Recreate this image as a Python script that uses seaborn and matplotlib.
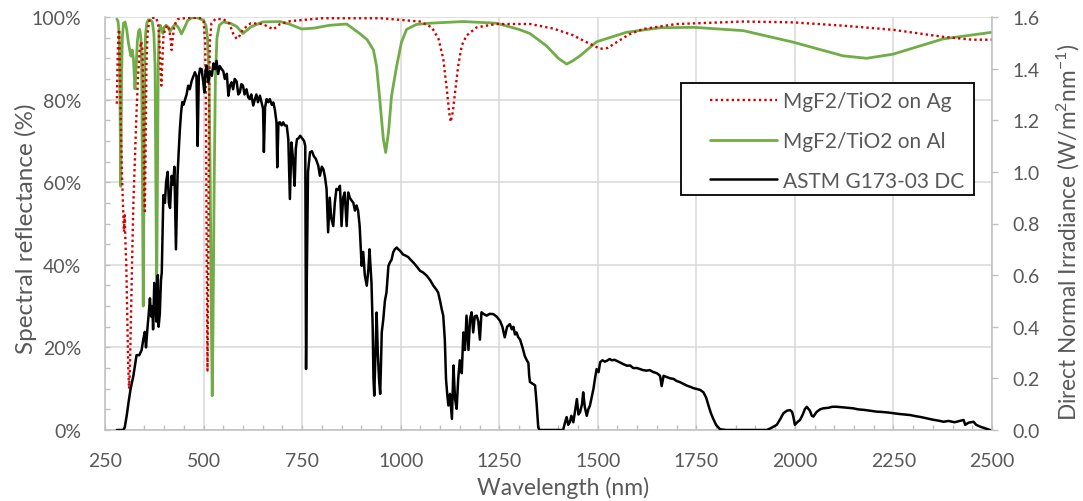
import matplotlib
matplotlib.use("Agg")
import matplotlib.pyplot as plt
import numpy as np
import pandas as pd
import seaborn as sns
from matplotlib.ticker import MultipleLocator, FuncFormatter
from matplotlib.lines import Line2D
from matplotlib.patches import Rectangle

# ---------------- data ----------------
ag_nm = [280, 282, 284, 286, 288, 290, 293, 296, 298, 300, 302, 304, 307, 309, 311, 313, 316, 319, 322, 326,
         330, 334, 338, 342, 345, 347, 349, 351, 353, 355, 358, 362, 368, 380, 385, 388, 391, 393, 395, 398,
         402, 408, 413, 416, 419, 422, 426, 435, 460, 490, 500, 504, 506, 508, 510, 512, 514, 516, 520, 530,
         550, 565, 575, 584, 592, 600, 620, 650, 677, 694, 720, 800, 950, 1049, 1079, 1096, 1108, 1117, 1123, 1127,
         1132, 1138, 1146, 1155, 1167, 1193, 1243, 1328, 1387, 1437, 1455, 1480, 1506, 1525, 1548, 1580, 1615, 1700, 1869, 1996,
         2122, 2249, 2376, 2450, 2500]
ag_refl = [79, 90, 96, 97, 88, 75, 62, 53.5, 48, 52, 45, 40, 25, 15, 10, 14, 28, 42, 55, 66,
           77, 86, 92, 94, 92, 82, 60, 53, 68, 88, 96, 99, 99.8, 99.8, 98, 94, 87, 83.4, 88, 95,
           97, 98, 97, 95, 92, 95, 98, 99.5, 99.8, 99.8, 99, 94, 80, 40, 14.4, 40, 80, 94, 98.5, 99.5,
           99.5, 98.5, 96, 94.7, 95.5, 97, 98.5, 98.3, 97, 98.3, 99, 99.7, 99.7, 98.9, 97.5, 94.7, 89.9, 82.6, 76.9, 74.6,
           76.9, 81.8, 88.2, 93.1, 95.5, 97.5, 98.3, 98.3, 97.2, 95.6, 94.7, 93.5, 92.3, 92.5, 93.9, 95.8, 97.1, 98.3, 98.9, 98.7,
           97.9, 96.9, 95.2, 94.5, 94.5]

al_nm = [280, 283, 286, 288, 290, 292, 294, 297, 301, 305, 309, 313, 316, 319, 322, 326, 329, 332, 335, 338,
         341, 343, 345, 347, 349, 351, 353, 356, 360, 365, 370, 374, 377, 379, 381, 383, 385, 387, 390, 394,
         397, 400, 405, 410, 415, 420, 428, 436, 444, 452, 460, 470, 485, 500, 506, 510, 514, 517, 520, 522,
         524, 527, 530, 534, 540, 550, 570, 584, 600, 620, 650, 694, 720, 749, 780, 820, 863, 896, 915, 931,
         939, 947, 956, 962, 969, 977, 990, 1002, 1015, 1040, 1074, 1158, 1243, 1300, 1328, 1370, 1400, 1421, 1435, 1455,
         1497, 1573, 1658, 1743, 1869, 1996, 2122, 2182, 2249, 2376, 2500]
al_refl = [99.5, 99, 96, 80, 59, 85, 95, 98.5, 98.8, 97, 94, 91.8, 90.5, 92, 90, 82.6, 88, 94, 96.5, 97,
           95, 88, 60, 30, 60, 90, 96, 98.5, 99.3, 99.3, 98.8, 96, 88, 60, 32.5, 60, 88, 96, 98, 97,
           96, 97.5, 98, 97.6, 96.5, 97.3, 98.3, 97.5, 95.9, 97.5, 99.2, 99.8, 99.8, 99.2, 98, 95, 85, 60, 25, 8.3,
           25, 60, 85, 95, 98, 98.8, 98.4, 97.7, 96, 97.6, 98.8, 98.9, 98.2, 97.1, 97.3, 98, 98.3, 96, 94.5, 92,
           88, 80, 70.5, 67.2, 72, 81, 88.2, 93.9, 97, 98.2, 98.5, 98.9, 98.5, 97, 96, 93, 90, 88.6, 89.3, 90.6,
           94, 96.3, 97.4, 97.5, 96.7, 93.9, 90.6, 90, 91, 94.7, 96.3]

astm_nm = [280, 296, 300, 305, 310, 315, 322, 330, 337, 343,
           347, 351, 354, 358, 362, 364, 367, 370, 372, 375,
           378, 380, 382, 384, 386, 389, 392, 394, 398, 402,
           405, 409, 412, 415, 419, 423, 426, 430, 434, 437,
           440, 443, 446, 449, 453, 457, 461, 465, 470, 474,
           478, 482, 485, 488, 491, 495, 499, 502, 505, 508,
           512, 516, 521, 525, 529, 533, 537, 541, 546, 550,
           554, 559, 563, 567, 571, 575, 579, 584, 588, 592,
           596, 600, 604, 609, 613, 617, 621, 626, 630, 634,
           638, 643, 647, 651, 653, 656, 660, 664, 668, 673,
           677, 681, 685, 687, 690, 694, 698, 702, 706, 711,
           715, 719, 723, 727, 731, 734, 737, 741, 745, 750,
           755, 758, 760, 762, 765, 770, 775, 780, 785, 791,
           795, 800, 804, 808, 812, 816, 820, 824, 829, 833,
           837, 841, 846, 850, 854, 858, 863, 867, 871, 875,
           880, 884, 888, 892, 896, 899, 901, 905, 909, 914,
           918, 921, 924, 926, 929, 931, 933, 936, 939, 942,
           945, 948, 950, 952, 956, 960, 964, 969, 973, 977,
           981, 985, 990, 994, 998, 1006, 1012, 1019, 1025, 1032,
           1040, 1049, 1057, 1066, 1075, 1083, 1090, 1095, 1100, 1104,
           1108, 1112, 1115, 1118, 1121, 1125, 1128, 1130, 1134, 1136,
           1138, 1142, 1146, 1150, 1155, 1159, 1163, 1167, 1172, 1176,
           1180, 1184, 1188, 1193, 1197, 1201, 1205, 1210, 1218, 1226,
           1235, 1243, 1252, 1258, 1264, 1270, 1277, 1282, 1286, 1290,
           1294, 1298, 1303, 1309, 1315, 1320, 1324, 1326, 1328, 1334,
           1341, 1345, 1349, 1352, 1412, 1417, 1421, 1425, 1429, 1433,
           1438, 1443, 1447, 1451, 1455, 1460, 1463, 1467, 1472, 1476,
           1480, 1485, 1489, 1493, 1497, 1502, 1506, 1512, 1518, 1523,
           1530, 1536, 1542, 1548, 1556, 1565, 1574, 1582, 1590, 1600,
           1607, 1615, 1624, 1632, 1640, 1650, 1658, 1662, 1667, 1675,
           1684, 1692, 1700, 1709, 1718, 1726, 1735, 1743, 1751, 1760,
           1768, 1775, 1781, 1787, 1793, 1800, 1810, 1825, 1929, 1940,
           1954, 1962, 1971, 1980, 1988, 1993, 1996, 2000, 2006, 2013,
           2020, 2025, 2030, 2038, 2043, 2047, 2055, 2064, 2072, 2085,
           2095, 2106, 2120, 2135, 2148, 2160, 2175, 2190, 2208, 2220,
           2235, 2250, 2265, 2280, 2292, 2305, 2320, 2335, 2350, 2365,
           2377, 2390, 2405, 2415, 2428, 2432, 2440, 2453, 2460, 2470,
           2485, 2495]
astm_irr = [0, 0, 0.01, 0.055, 0.11, 0.16, 0.21, 0.29, 0.29, 0.31,
            0.35, 0.38, 0.32, 0.40, 0.47, 0.51, 0.44, 0.48, 0.39, 0.57,
            0.50, 0.42, 0.55, 0.60, 0.40, 0.45, 0.58, 0.61, 0.91, 0.88,
            0.96, 1.00, 0.88, 0.86, 0.985, 0.95, 1.02, 0.70, 0.985, 1.08,
            1.166, 1.23, 1.27, 1.26, 1.28, 1.30, 1.334, 1.32, 1.353, 1.37,
            1.386, 1.37, 1.10, 1.372, 1.40, 1.398, 1.35, 1.308, 1.39, 1.411,
            1.347, 1.39, 1.372, 1.42, 1.398, 1.43, 1.379, 1.41, 1.398, 1.39,
            1.36, 1.38, 1.295, 1.334, 1.347, 1.32, 1.36, 1.35, 1.30, 1.308,
            1.34, 1.334, 1.30, 1.32, 1.29, 1.282, 1.30, 1.257, 1.28, 1.30,
            1.27, 1.295, 1.27, 1.244, 1.077, 1.25, 1.282, 1.27, 1.282, 1.26,
            1.269, 1.24, 1.192, 1.018, 1.19, 1.192, 1.18, 1.192, 1.18, 1.179,
            1.127, 0.895, 1.114, 1.05, 0.946, 1.09, 1.127, 1.13, 1.14, 1.13,
            1.12, 1.10, 0.236, 0.60, 1.00, 1.076, 1.08, 1.06, 1.05, 1.024,
            0.985, 1.02, 1.01, 0.98, 0.934, 0.766, 0.90, 0.82, 0.79, 0.88,
            0.934, 0.93, 0.946, 0.79, 0.90, 0.92, 0.79, 0.92, 0.90, 0.89,
            0.88, 0.85, 0.87, 0.85, 0.79, 0.70, 0.636, 0.69, 0.60, 0.559,
            0.62, 0.70, 0.62, 0.57, 0.40, 0.20, 0.133, 0.30, 0.455, 0.30,
            0.20, 0.14, 0.25, 0.378, 0.43, 0.50, 0.533, 0.636, 0.65, 0.66,
            0.688, 0.70, 0.707, 0.70, 0.695, 0.68, 0.676, 0.67, 0.66, 0.649,
            0.635, 0.617, 0.61, 0.598, 0.58, 0.559, 0.545, 0.533, 0.50, 0.469,
            0.443, 0.35, 0.198, 0.14, 0.095, 0.14, 0.08, 0.043, 0.25, 0.18,
            0.12, 0.082, 0.20, 0.27, 0.22, 0.378, 0.31, 0.443, 0.31, 0.43,
            0.456, 0.378, 0.44, 0.443, 0.42, 0.35, 0.456, 0.45, 0.443, 0.45,
            0.449, 0.44, 0.423, 0.40, 0.359, 0.40, 0.41, 0.39, 0.40, 0.37,
            0.378, 0.36, 0.35, 0.32, 0.286, 0.27, 0.26, 0.21, 0.186, 0.18,
            0.173, 0.10, 0.01, 0.0, 0.0, 0.03, 0.05, 0.02, 0.03, 0.055,
            0.03, 0.08, 0.12, 0.06, 0.069, 0.10, 0.146, 0.09, 0.055, 0.08,
            0.094, 0.13, 0.159, 0.20, 0.236, 0.224, 0.263, 0.27, 0.265, 0.268,
            0.275, 0.27, 0.272, 0.268, 0.262, 0.255, 0.249, 0.25, 0.24, 0.24,
            0.236, 0.232, 0.23, 0.232, 0.225, 0.22, 0.21, 0.17, 0.21, 0.205,
            0.20, 0.198, 0.19, 0.185, 0.178, 0.172, 0.167, 0.162, 0.159, 0.155,
            0.146, 0.125, 0.094, 0.065, 0.043, 0.02, 0.003, 0.0, 0.0, 0.008,
            0.02, 0.04, 0.065, 0.075, 0.077, 0.07, 0.052, 0.02, 0.03, 0.039,
            0.06, 0.08, 0.09, 0.075, 0.055, 0.052, 0.07, 0.08, 0.084, 0.086,
            0.09, 0.09, 0.088, 0.086, 0.084, 0.08, 0.078, 0.075, 0.071, 0.07,
            0.068, 0.065, 0.062, 0.06, 0.058, 0.054, 0.05, 0.045, 0.04, 0.036,
            0.032, 0.035, 0.03, 0.034, 0.039, 0.02, 0.028, 0.032, 0.02, 0.013,
            0.005, 0.0]

series_labels = ["MgF2/TiO2 on Ag", "MgF2/TiO2 on Al", "ASTM G173-03 DC"]

# ---------------- style ----------------
sns.set_theme(style="white")
plt.rcParams['font.family'] = ['Lato', 'DejaVu Sans']
plt.rcParams['mathtext.default'] = 'regular'
TXT = '#595959'
GRID = '#d9d9d9'
SPINE = '#bfbfbf'
RED = '#d40000'
GREEN = '#70ad47'

W, H = 1083, 502
fig = plt.figure(figsize=(W / 100, H / 100), dpi=100)
L, R, T, B = 105, 992, 18, 431
ax = fig.add_axes([L / W, 1 - B / H, (R - L) / W, (B - T) / H])
ax2 = ax.twinx()

df_ag = pd.DataFrame({"nm": ag_nm, "r": ag_refl})
df_al = pd.DataFrame({"nm": al_nm, "r": al_refl})
df_astm = pd.DataFrame({"nm": astm_nm, "irr": astm_irr})

RED_LS = (0, (1.0, 1.3))
sns.lineplot(data=df_ag, x="nm", y="r", ax=ax, color=RED, linewidth=1.7,
             linestyle=RED_LS, estimator=None, legend=False, zorder=3)
sns.lineplot(data=df_al, x="nm", y="r", ax=ax, color=GREEN, linewidth=2.0,
             estimator=None, legend=False, zorder=2)
sns.lineplot(data=df_astm, x="nm", y="irr", ax=ax2, color='black', linewidth=1.8,
             estimator=None, legend=False, zorder=4)

ax.set_xlim(250, 2500)
ax.set_ylim(0, 100)
ax2.set_ylim(0, 1.6)

ax.xaxis.set_major_locator(MultipleLocator(250))
ax.xaxis.set_minor_locator(MultipleLocator(50))
ax.yaxis.set_major_locator(MultipleLocator(20))
ax.yaxis.set_minor_locator(MultipleLocator(5))
ax.yaxis.set_major_formatter(FuncFormatter(lambda v, p: f"{v:.0f}%"))
ax2.yaxis.set_major_locator(MultipleLocator(0.2))
ax2.yaxis.set_major_formatter(FuncFormatter(lambda v, p: f"{v:.1f}"))

ax.grid(True, which='major', color=GRID, linewidth=1.1)
ax.set_axisbelow(True)
ax2.grid(False)

for s in ['top', 'right']:
    ax.spines[s].set_visible(False)
for s in ['left', 'bottom']:
    ax.spines[s].set_color(SPINE)
    ax.spines[s].set_linewidth(1.1)
for s in ['top', 'left', 'bottom']:
    ax2.spines[s].set_visible(False)
ax2.spines['right'].set_color(SPINE)
ax2.spines['right'].set_linewidth(1.1)

ax.tick_params(axis='x', which='both', bottom=True, direction='in', length=3.5,
               width=1, color=SPINE, pad=16, labelsize=14, labelcolor=TXT)
ax.tick_params(axis='y', which='both', left=True, direction='in', length=3.5,
               width=1, color=SPINE, pad=17, labelsize=14, labelcolor=TXT)
ax2.tick_params(axis='y', which='major', right=True, direction='out', length=4,
                width=1, color=SPINE, pad=11, labelsize=14, labelcolor=TXT)

ax.set_xlabel("Wavelength (nm)", fontsize=16.5, color=TXT)
ax.xaxis.set_label_coords(0.516, -0.11)
ax.set_ylabel("Spectral reflectance (%)", fontsize=17.5, color=TXT)
ax.yaxis.set_label_coords((37 - L) / (R - L), 0.49)
ax2.set_ylabel("Direct Normal Irradiance (W/m$^{2}$nm$^{-1}$)", fontsize=16.3, color=TXT)
ax2.yaxis.set_label_coords((1055 - L) / (R - L), 0.48)

# legend box
x0 = (681 - L) / (R - L); x1 = (974 - L) / (R - L)
y0 = (B - 196) / (B - T); y1 = (B - 84) / (B - T)
ax2.add_patch(Rectangle((x0, y0), x1 - x0, y1 - y0, transform=ax2.transAxes,
                        facecolor='white', edgecolor='black', linewidth=1.3, zorder=10))
handles = [Line2D([], [], color=RED, linewidth=1.7, linestyle=RED_LS),
           Line2D([], [], color=GREEN, linewidth=2.0),
           Line2D([], [], color='black', linewidth=1.8)]
leg = ax2.legend(handles, series_labels, loc='upper left',
                 bbox_to_anchor=((710 - L) / (R - L), (B - 92) / (B - T)),
                 frameon=False, fontsize=15, labelcolor=TXT, handlelength=3.2,
                 handletextpad=0.3, labelspacing=0.95, borderpad=0, borderaxespad=0)
leg.set_zorder(11)

fig.savefig("out.png", dpi=100)
